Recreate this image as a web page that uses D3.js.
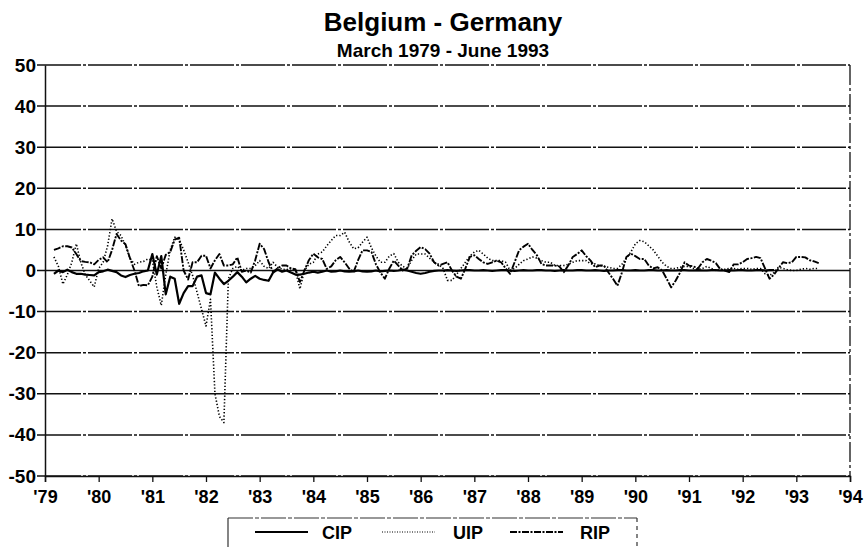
<!DOCTYPE html>
<html><head><meta charset="utf-8">
<script src="https://cdn.jsdelivr.net/npm/d3@7"></script>
<style>
html,body{margin:0;padding:0;background:#fff;}
svg{display:block;font-family:"Liberation Sans",Arial,Helvetica,sans-serif;}
</style></head>
<body><svg id="c" width="867" height="547"></svg>
<script>
// ---- data (monthly, March 1979 - June 1993) ----
const startYear = 1979, startMonth = 3;
const seriesNames = ["CIP", "UIP", "RIP"];
const yTicks = [50,40,30,20,10,0,-10,-20,-30,-40,-50];
const xTicks = [1979,1980,1981,1982,1983,1984,1985,1986,1987,1988,1989,1990,1991,1992,1993,1994];
const xTickLabels = ["'79","'80","'81","'82","'83","'84","'85","'86","'87","'88","'89","'90","'91","'92","'93","'94"];

const cip = [
-0.8,0.0,-0.4,0.2,-0.4,-0.8,-0.8,-1.0,-1.1,-1.2,
-0.4,-0.2,0.2,-0.1,-0.4,-1.2,-1.6,-1.1,-0.8,-0.6,-0.2,0.0,
4.0,-1.0,3.5,-5.8,-1.5,-2.0,-8.1,-5.5,-3.8,-3.8,-1.5,-1.2,
-5.5,-5.8,-0.5,-2.0,-3.3,-2.5,-1.5,-0.4,-1.5,-2.9,-2.0,-1.3,
-2.0,-2.3,-2.5,-0.5,0.3,-0.3,0.0,-0.5,-1.0,-1.0,-0.8,-0.5,
-0.3,-0.5,-0.3,0.0,-0.3,-0.2,0.0,-0.2,-0.3,-0.2,0.0,-0.2,-0.3,-0.2,
0.0,-0.2,-0.1,0.0,-0.1,0.0,0.2,0.0,-0.3,-0.6,-0.8,-0.6,
-0.3,-0.1,0.0,0.0,0.1,0.0,-0.1,0.0,0.1,0.1,0.0,0.0,
0.1,0.0,-0.1,0.0,0.1,0.1,0.0,-0.1,0.0,0.1,0.0,0.0,
0.1,0.1,0.0,0.0,-0.1,0.0,0.1,0.0,0.0,0.1,0.1,0.0,
0.0,0.1,0.0,-0.1,0.0,0.0,0.1,0.1,0.0,0.0,0.1,0.0,
0.0,0.1,0.1,0.0,0.0,0.1,0.0,0.0,0.1,0.1,0.0,0.0,
0.1,0.0,0.0,0.1,0.1,0.0,0.0,0.1,0.0,0.1,0.1,0.0,
0.0,0.1,0.1,0.0,0.1,0.1
];
const uip = [
3.3,1.0,-3.3,-1.0,2.0,6.5,2.0,-1.0,-2.5,-4.0,
0.5,2.0,6.0,12.6,9.5,8.5,6.0,3.0,1.5,2.0,2.2,2.8,
2.5,-4.0,-8.5,-1.0,5.0,8.1,7.5,5.0,2.0,-1.2,-5.3,-9.4,
-13.5,-7.0,-30.0,-35.5,-37.0,-2.0,0.5,1.0,0.0,0.5,0.5,1.2,
2.4,1.0,0.5,2.0,0.8,0.3,0.2,0.5,0.0,-4.5,0.0,1.5,
2.0,4.0,4.5,6.0,7.3,8.5,8.5,9.3,7.0,5.3,5.5,6.9,
8.1,5.5,3.5,2.0,2.0,3.5,4.1,2.0,1.0,0.5,2.5,4.0,
4.0,4.0,3.0,2.0,1.5,0.5,-2.4,-2.4,-1.0,0.5,2.0,3.5,
4.5,4.9,4.0,3.0,2.4,2.4,2.4,2.0,0.0,0.5,1.5,2.4,
2.8,3.3,3.0,2.4,2.0,2.0,1.2,1.2,1.2,1.5,2.0,2.4,
2.4,2.4,1.6,1.6,1.2,1.0,0.8,0.5,0.5,1.5,3.0,4.5,
6.5,7.3,7.0,6.0,5.0,3.5,2.0,1.0,0.5,0.5,0.8,1.0,
1.0,0.5,0.3,0.5,1.0,0.5,0.0,0.3,0.3,0.5,0.5,0.3,
0.5,0.5,0.3,0.5,0.5,-0.8,-1.2,-0.5,0.8,0.5,0.2,0.0,
0.0,0.3,0.5,0.3,0.5,0.5
];
const rip = [
5.0,5.4,5.9,5.9,5.6,4.0,2.3,2.1,2.0,1.5,
2.6,3.2,2.0,5.0,8.9,7.3,6.4,3.0,0.0,-3.8,-3.5,-3.6,
-1.5,3.5,0.5,3.8,4.5,7.5,8.0,0.0,-2.2,2.0,2.0,3.6,
3.6,0.5,2.5,4.0,1.2,1.2,1.5,3.2,-0.3,0.0,-0.5,2.5,
6.5,5.2,2.0,-0.3,0.5,1.2,1.2,0.5,0.3,-2.8,0.0,2.5,
4.1,3.2,2.8,0.4,1.0,2.5,3.3,2.0,0.5,-0.4,2.5,4.9,
4.9,4.5,1.5,-0.5,-2.0,0.5,2.4,1.2,0.0,0.5,3.7,4.8,
5.7,5.2,4.1,2.0,1.2,1.6,2.0,0.0,-1.5,-2.0,0.5,3.3,
3.7,2.8,2.0,1.6,2.0,2.4,2.0,0.5,-0.8,2.0,4.9,5.8,
6.5,5.0,3.7,1.6,1.2,1.2,1.2,1.0,-0.4,1.2,3.3,4.0,
4.9,3.5,2.4,0.8,1.2,1.2,-0.5,-2.0,-3.7,-0.5,3.3,4.1,
3.5,2.8,2.8,1.2,0.5,0.8,0.0,-2.0,-4.1,-2.5,-0.5,2.0,
1.2,1.0,0.5,2.0,2.8,2.4,1.8,0.3,0.0,-0.4,1.5,1.5,
2.0,2.8,3.0,3.3,3.0,0.5,-2.0,-1.0,0.5,2.0,1.8,2.0,
3.3,3.3,3.2,2.5,2.2,1.8
];

// ---- chart ----
const svg = d3.select("#c");
const L = 45, R = 850, T = 65, B = 476;
const x = d3.scaleLinear().domain([1979, 1994]).range([L, R]);
const y = d3.scaleLinear().domain([-50, 50]).range([B, T]);
const tOf = i => startYear + (startMonth - 1 + i) / 12;

// titles
svg.append("text").attr("x", 443).attr("y", 31).attr("text-anchor", "middle")
  .attr("font-size", 26).attr("font-weight", "bold").text("Belgium - Germany");
svg.append("text").attr("x", 443).attr("y", 57).attr("text-anchor", "middle")
  .attr("font-size", 19).attr("font-weight", "bold").text("March 1979 - June 1993");

// gridlines
svg.append("g").selectAll("line").data(yTicks).join("line")
  .attr("x1", L - 8).attr("x2", R).attr("y1", d => y(d)).attr("y2", d => y(d))
  .attr("stroke", "#111").attr("stroke-width", d => d === 0 ? 1.6 : 1.5)
  .attr("stroke-dasharray", d => d === 0 ? null : "44,2,3,2");

// y axis
const ya = svg.append("g").attr("transform", `translate(${L},0)`)
  .call(d3.axisLeft(y).tickValues(yTicks).tickSize(0).tickPadding(9).tickFormat(d => String(d)));
ya.select(".domain").attr("stroke", "#111").attr("stroke-width", 1.5);
ya.selectAll("text").attr("font-size", 19).attr("font-weight", "bold").attr("fill", "#000")
  .attr("font-family", "'Liberation Sans',Arial,sans-serif");

// x axis
const xa = svg.append("g").attr("transform", `translate(0,${B})`)
  .call(d3.axisBottom(x).tickValues(xTicks).tickSize(6).tickPadding(8)
    .tickFormat((d, i) => xTickLabels[i]));
xa.select(".domain").attr("stroke", "#111").attr("stroke-width", 1.5);
xa.selectAll(".tick line").attr("stroke", "#111").attr("stroke-width", 1.3);
xa.selectAll("text").attr("font-size", 18).attr("font-weight", "bold").attr("fill", "#000")
  .attr("font-family", "'Liberation Sans Narrow','Liberation Sans',Arial,sans-serif");

// right border (dashed)
svg.append("line").attr("x1", R).attr("x2", R).attr("y1", T).attr("y2", B)
  .attr("stroke", "#111").attr("stroke-width", 1.3).attr("stroke-dasharray", "20,3,3,3");

// series
const line = d3.line().x((d, i) => x(tOf(i))).y(d => y(d));
const styles = {
  CIP: {w: 2.2, dash: null},
  UIP: {w: 1.6, dash: "1.3,2"},
  RIP: {w: 1.9, dash: "7,1.5,2,1.5"}
};
const dataBy = {CIP: cip, UIP: uip, RIP: rip};
["UIP", "RIP", "CIP"].forEach(k => {
  svg.append("path").datum(dataBy[k]).attr("d", line).attr("fill", "none")
    .attr("stroke", "#000").attr("stroke-width", styles[k].w)
    .attr("stroke-dasharray", styles[k].dash).attr("stroke-linejoin", "round");
});

// legend
const lg = svg.append("g");
lg.append("line").attr("x1", 228).attr("x2", 637).attr("y1", 518).attr("y2", 518)
  .attr("stroke", "#333").attr("stroke-width", 1.2).attr("stroke-dasharray", "25,2,4,2");
lg.append("line").attr("x1", 228).attr("x2", 228).attr("y1", 518).attr("y2", 547)
  .attr("stroke", "#333").attr("stroke-width", 1.2);
lg.append("line").attr("x1", 637).attr("x2", 637).attr("y1", 518).attr("y2", 547)
  .attr("stroke", "#333").attr("stroke-width", 1.2).attr("stroke-dasharray", "4,4");
const lx = [255, 382, 510], tx = [322, 453, 580];
seriesNames.forEach((k, i) => {
  lg.append("line").attr("x1", lx[i]).attr("x2", lx[i] + 53).attr("y1", 532).attr("y2", 532)
    .attr("stroke", "#000").attr("stroke-width", k === "UIP" ? 1.2 : styles[k].w)
    .attr("stroke-dasharray", k === "UIP" ? "1,1.5" : styles[k].dash);
  lg.append("text").attr("x", tx[i]).attr("y", 539).attr("font-size", 18)
    .attr("font-weight", "bold").text(k);
});
</script></body></html>
